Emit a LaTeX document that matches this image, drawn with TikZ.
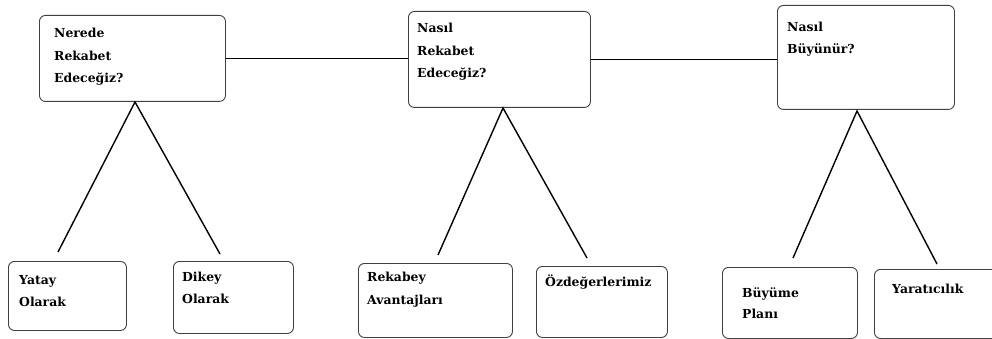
\documentclass[tikz,border=0pt]{standalone}
\usepackage{fontspec}
\setmainfont{DejaVu Serif}
\begin{document}
\begin{tikzpicture}[x=1pt,y=-1pt,
  box/.style={draw=black!75,line width=0.9pt,rounded corners=6pt,inner sep=0pt,anchor=north west},
  txt/.style={anchor=base west,inner sep=0pt,font=\fontsize{12.4}{14}\selectfont\bfseries,text=black},
  conn/.style={draw=black,line width=1.4pt}]
\useasboundingbox[fill=white] (0,0) rectangle (992,339);
% top boxes
\node[box,minimum width=186pt,minimum height=86pt] (b1) at (39,15) {};
\node[box,minimum width=182pt,minimum height=96pt] (b2) at (408,11) {};
\node[box,minimum width=177pt,minimum height=104pt] (b3) at (777,5) {};
% bottom boxes
\node[box,minimum width=118pt,minimum height=69pt] (c1) at (8,261) {};
\node[box,minimum width=120pt,minimum height=72pt] (c2) at (173,261) {};
\node[box,minimum width=154pt,minimum height=74pt] (c3) at (358,263) {};
\node[box,minimum width=131pt,minimum height=71pt] (c4) at (536,266) {};
\node[box,minimum width=135pt,minimum height=71pt] (c5) at (722,267) {};
\node[box,minimum width=130pt,minimum height=69pt] (c6) at (874,269) {};
% texts
\node[txt] (t1a) at (54,38) {Nerede};
\node[txt] (t1b) at (54,61) {Rekabet};
\node[txt] (t1c) at (54,83) {Edeceğiz?};
\node[txt] (t2a) at (417,33) {Nasıl};
\node[txt] (t2b) at (417,56) {Rekabet};
\node[txt] (t2c) at (417,78) {Edeceğiz?};
\node[txt] (t3a) at (787,32) {Nasıl};
\node[txt] (t3b) at (787,54) {Büyünür?};
\node[txt] (u1a) at (19,284) {Yatay};
\node[txt] (u1b) at (19,306) {Olarak};
\node[txt] (u2a) at (182,281) {Dikey};
\node[txt] (u2b) at (182,303) {Olarak};
\node[txt] (u3a) at (367,281) {Rekabey};
\node[txt] (u3b) at (367,304) {Avantajları};
\node[txt] (u4a) at (545,286) {Özdeğerlerimiz};
\node[txt] (u5a) at (742,297) {Büyüme};
\node[txt] (u5b) at (742,318) {Planı};
\node[txt] (u6a) at (892,293) {Yaratıcılık};
% connector points
\coordinate (a1) at (135,102);
\coordinate (a2) at (503,108);
\coordinate (a3) at (857,111);
\coordinate (e1) at (58,252);
\coordinate (e2) at (220,254);
\coordinate (e3) at (438,255);
\coordinate (e4) at (587,258);
\coordinate (e5) at (793,258);
\coordinate (e6) at (937,264);
% connectors
\draw[conn] (b1.east) -- (b1.east -| b2.west);
\draw[conn] (b2.east) -- (b2.east -| b3.west);
\draw[conn] (e1) -- (a1) -- (e2);
\draw[conn] (e3) -- (a2) -- (e4);
\draw[conn] (e5) -- (a3) -- (e6);
\end{tikzpicture}
\end{document}
